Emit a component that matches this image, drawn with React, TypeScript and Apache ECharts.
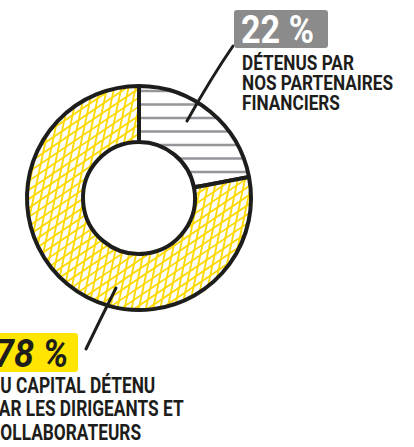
import React, { useEffect, useRef } from 'react';
import * as echarts from 'echarts';

// ---- data ----
const categories = ['Partenaires financiers', 'Dirigeants et collaborateurs'];
const shares = [22, 78];
const descriptions = [
  ['DÉTENUS PAR', 'NOS PARTENAIRES', 'FINANCIERS'],
  ['DU CAPITAL DÉTENU', 'PAR LES DIRIGEANTS ET', 'COLLABORATEURS'],
];

const W = 414;
const H = 447;
const INK = '#1d1d1b';
const FONT = "Roboto, 'Noto Sans', sans-serif";

function makeGrayHatch(): string {
  const c = document.createElement('canvas');
  c.width = W;
  c.height = H;
  const ctx = c.getContext('2d')!;
  ctx.fillStyle = '#ffffff';
  ctx.fillRect(0, 0, W, H);
  ctx.strokeStyle = '#95959a';
  ctx.lineWidth = 2.7;
  for (let y = 91; y < H; y += 13.5) {
    ctx.beginPath();
    ctx.moveTo(0, y);
    ctx.lineTo(W, y);
    ctx.stroke();
  }
  return c.toDataURL();
}

function drawSet(ctx: CanvasRenderingContext2D, angleDeg: number, spacing: number) {
  const a = (angleDeg * Math.PI) / 180;
  const dx = Math.cos(a);
  const dy = -Math.sin(a);
  const nx = Math.sin(a);
  const ny = Math.cos(a);
  const L = Math.hypot(W, H);
  const cx = W / 2;
  const cy = H / 2;
  const n = Math.ceil(L / spacing);
  for (let k = -n; k <= n; k++) {
    const px = cx + nx * k * spacing;
    const py = cy + ny * k * spacing;
    ctx.beginPath();
    ctx.moveTo(px - dx * L, py - dy * L);
    ctx.lineTo(px + dx * L, py + dy * L);
    ctx.stroke();
  }
}

function makeYellowHatch(): string {
  const c = document.createElement('canvas');
  c.width = W;
  c.height = H;
  const ctx = c.getContext('2d')!;
  ctx.fillStyle = '#ffffff';
  ctx.fillRect(0, 0, W, H);
  ctx.strokeStyle = '#ffd800';
  ctx.lineWidth = 1.8;
  drawSet(ctx, 78, 7);
  drawSet(ctx, 34, 7.5);
  return c.toDataURL();
}

export default function App() {
  const ref = useRef<HTMLDivElement>(null);

  useEffect(() => {
    document.body.style.margin = '0';
    if (!ref.current) return;
    const chart = echarts.init(ref.current, undefined, { renderer: 'svg' });
    const patterns = [makeGrayHatch(), makeYellowHatch()];

    const pctText = (i: number) => `${shares[i]} %`;

    const option: any = {
      animation: false,
      backgroundColor: '#ffffff',
      series: [
        {
          type: 'pie',
          center: [139, 198],
          radius: [56, 112],
          startAngle: 90,
          clockwise: true,
          silent: true,
          emphasis: { disabled: true },
          label: { show: false },
          labelLine: { show: false },
          itemStyle: { borderColor: INK, borderWidth: 4, borderJoin: 'round' },
          data: shares.map((v, i) => ({
            name: categories[i],
            value: v,
            itemStyle: {
              color: { image: patterns[i], repeat: 'repeat', imageWidth: W, imageHeight: H },
            },
          })),
        },
      ],
      graphic: [
        // leader lines
        {
          type: 'bezierCurve',
          silent: true,
          shape: { x1: 187, y1: 121, cpx1: 211, cpy1: 78, x2: 233, y2: 46 },
          style: { stroke: INK, lineWidth: 3, lineCap: 'round', fill: null },
          z: 10,
        },
        {
          type: 'bezierCurve',
          silent: true,
          shape: { x1: 116, y1: 288, cpx1: 101, cpy1: 318, x2: 86, y2: 349 },
          style: { stroke: INK, lineWidth: 3, lineCap: 'round', fill: null },
          z: 10,
        },
        // label 22 %
        {
          type: 'rect',
          silent: true,
          shape: { x: 234, y: 10, width: 94, height: 38, r: 3 },
          style: { fill: '#8b8b8b' },
          z: 10,
        },
        {
          type: 'text',
          silent: true,
          x: 241,
          y: 30,
          scaleX: 0.9,
          style: {
            text: pctText(0),
            fill: '#ffffff',
            font: `bold 38px ${FONT}`,
            verticalAlign: 'middle',
            align: 'left',
          },
          z: 11,
        },
        {
          type: 'text',
          silent: true,
          x: 242,
          y: 54,
          scaleX: 0.86,
          style: {
            text: descriptions[0].join('\n'),
            fill: INK,
            font: `bold 20px ${FONT}`,
            lineHeight: 20,
            verticalAlign: 'top',
            align: 'left',
          },
          z: 11,
        },
        // label 78 %
        {
          type: 'rect',
          silent: true,
          shape: { x: -12, y: 333, width: 90, height: 39, r: 3 },
          style: { fill: '#ffe500' },
          z: 10,
        },
        {
          type: 'text',
          silent: true,
          x: -6,
          y: 353,
          scaleX: 0.92,
          style: {
            text: pctText(1),
            fill: INK,
            font: `italic bold 39px ${FONT}`,
            verticalAlign: 'middle',
            align: 'left',
          },
          z: 11,
        },
        {
          type: 'text',
          silent: true,
          x: -11,
          y: 373,
          scaleX: 0.77,
          style: {
            text: descriptions[1].join('\n'),
            fill: INK,
            font: `bold 22.5px ${FONT}`,
            lineHeight: 23.5,
            verticalAlign: 'top',
            align: 'left',
          },
          z: 11,
        },
      ],
    };
    chart.setOption(option);
    return () => chart.dispose();
  }, []);

  return <div ref={ref} style={{ width: W, height: H }} />;
}
